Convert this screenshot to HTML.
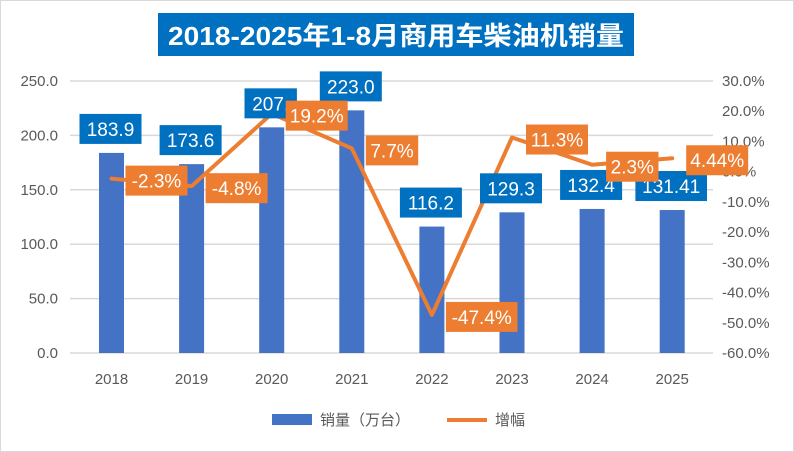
<!DOCTYPE html>
<html><head><meta charset="utf-8"><style>
body{margin:0;background:#fff}
#wrap{position:relative;width:794px;height:452px;overflow:hidden}
svg text{font-family:"Liberation Sans","Noto Sans CJK SC",sans-serif}
</style></head><body>
<div id="wrap">
<svg id="svg" width="794" height="452" viewBox="0 0 794 452">
<rect x="0.5" y="0.5" width="793" height="451" fill="#fff" stroke="#d9d9d9"/>
<rect x="158" y="13" width="476" height="43" fill="#0070C0"/>
<text x="396" y="45" text-anchor="middle" font-size="26" font-weight="bold" fill="#fff" textLength="456" lengthAdjust="spacingAndGlyphs">2018-2025年1-8月商用车柴油机销量</text>
<g id="grid"></g><g id="bars"></g><g id="line"></g><g id="labels"></g>
<rect x="272" y="414" width="40" height="11" fill="#4472C4"/>
<text x="320" y="425" font-size="15" fill="#595959">销量（万台）</text>
<line x1="447" y1="420" x2="487" y2="420" stroke="#ED7D31" stroke-width="4"/>
<text x="495" y="425" font-size="15" fill="#595959">增幅</text>
</svg></div>
<script>
const years=['2018','2019','2020','2021','2022','2023','2024','2025'];
const sales=[183.9,173.6,207.4,223.0,116.2,129.3,132.4,131.41];
const salesLabels=['183.9','173.6','207.','223.0','116.2','129.3','132.4','131.41'];
const growth=[-2.3,-4.8,19.2,7.7,-47.4,11.3,2.3,4.44];
const growthLabels=['-2.3%','-4.8%','19.2%','7.7%','-47.4%','11.3%','2.3%','4.44%'];
const leftTicks=[0,50,100,150,200,250];
const rightTicks=[30,20,10,0,-10,-20,-30,-40,-50,-60];
const NS='http://www.w3.org/2000/svg';
const yL=v=>353-v*272/250;
const yR=v=>353-(v+60)*272/90;
const xC=i=>111.5+i*80.1;
function mk(p,t,a){const e=document.createElementNS(NS,t);for(const k in a)e.setAttribute(k,a[k]);p.appendChild(e);return e;}
const grid=document.getElementById('grid'),bars=document.getElementById('bars'),line=document.getElementById('line'),labels=document.getElementById('labels');
leftTicks.forEach(v=>{
 const l=mk(grid,'line',{x1:70,x2:713,y1:yL(v),y2:yL(v),stroke:'#d9d9d9','stroke-width':1.5});
 
 
 const t=mk(grid,'text',{x:58,y:yL(v)+5,'text-anchor':'end','font-size':15,fill:'#595959'});t.textContent=v.toFixed(1);
 
 
});
rightTicks.forEach(v=>{
 const t=mk(grid,'text',{x:722,y:yR(v)+5,'font-size':15,fill:'#595959'});t.textContent=v.toFixed(1)+'%';
 
 
});
years.forEach((y,i)=>{
 const t=mk(grid,'text',{x:xC(i),y:384,'text-anchor':'middle','font-size':15,fill:'#595959'});t.textContent=y;
 
 
 const b=mk(bars,'rect',{x:xC(i)-12.5,y:yL(sales[i]),width:25,height:353-yL(sales[i]),fill:'#4472C4'});
 
 
});
const pts=growth.map((g,i)=>xC(i)+','+yR(g)).join(' ');
const pl=mk(line,'polyline',{points:pts,fill:'none',stroke:'#ED7D31','stroke-width':4,'stroke-linejoin':'round','stroke-linecap':'round'});


function box(cx,cy,txt,col,name,left){
 const w=txt.length*9.6+14;
 const x=left?cx:cx-w/2;
 const r=mk(labels,'rect',{x:x,y:cy-15,width:w,height:30,fill:col});
 
 
 const t=mk(labels,'text',{x:x+w/2,y:cy+7,'text-anchor':'middle','font-size':19,fill:'#fff'});t.textContent=txt;
 
 
}
years.forEach((y,i)=>box(xC(i)-1,yL(sales[i])-24,salesLabels[i],'#0070C0','bar-label-'+y,false));
years.forEach((y,i)=>box(xC(i)+14,yR(growth[i])+2,growthLabels[i],'#ED7D31','growth-label-'+y,true));
</script>
</body></html>
